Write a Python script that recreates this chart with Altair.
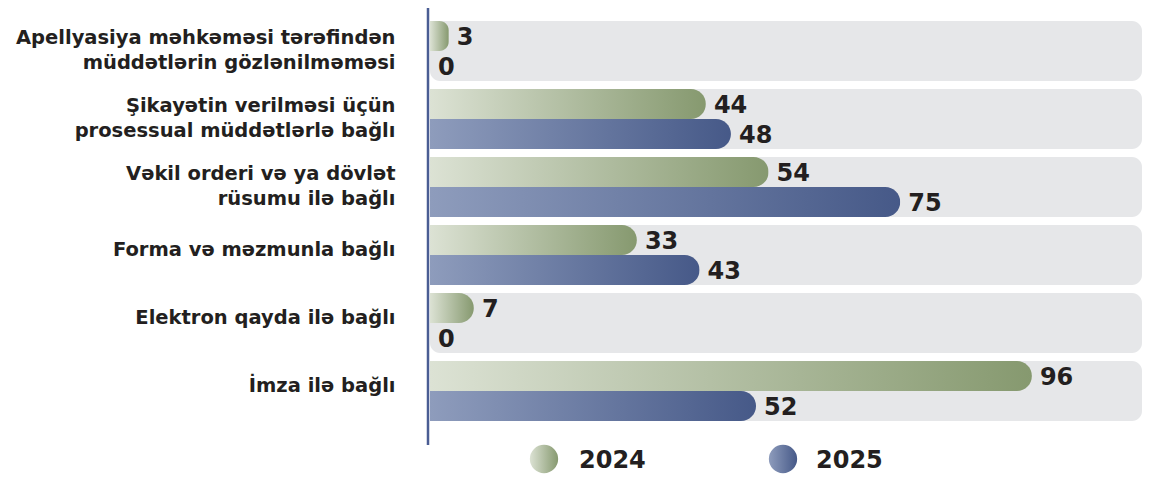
import altair as alt
import pandas as pd

categories = [
    "Apellyasiya məhkəməsi tərəfindən\nmüddətlərin gözlənilməməsi",
    "Şikayətin verilməsi üçün\nprosessual müddətlərlə bağlı",
    "Vəkil orderi və ya dövlət\nrüsumu ilə bağlı",
    "Forma və məzmunla bağlı",
    "Elektron qayda ilə bağlı",
    "İmza ilə bağlı",
]
years = ["2024", "2025"]
values_2024 = [3, 44, 54, 33, 7, 96]
values_2025 = [0, 48, 75, 43, 0, 52]

PLOT_W = 712
XMAX = PLOT_W / 6.27
FONT = "DejaVu Sans"
TEXT_COLOR = "#231f20"

rows = []
for c, a, b in zip(categories, values_2024, values_2025):
    rows.append({"cat": c, "year": years[0], "value": a})
    rows.append({"cat": c, "year": years[1], "value": b})
df = pd.DataFrame(rows)
df_bg = pd.DataFrame({"cat": categories})

green = alt.Gradient(
    gradient="linear",
    stops=[alt.GradientStop(color="#dce2d4", offset=0), alt.GradientStop(color="#86996f", offset=1)],
    x1=0, x2=1, y1=0, y2=0,
)
blue = alt.Gradient(
    gradient="linear",
    stops=[alt.GradientStop(color="#8e9cbc", offset=0), alt.GradientStop(color="#465988", offset=1)],
    x1=0, x2=1, y1=0, y2=0,
)

x_scale = alt.Scale(domain=[0, XMAX], nice=False, zero=True)
y_scale = alt.Scale(paddingInner=8 / 68, paddingOuter=13 / 68)
yoff_scale = alt.Scale(domain=years, paddingInner=0, paddingOuter=0)

y_axis = alt.Axis(
    title=None, ticks=False, domain=False, labelPadding=35,
    labelFont=FONT, labelFontSize=19.5, labelFontWeight="bold", labelColor=TEXT_COLOR,
    labelLineHeight=24.5, labelLimit=0, labelExpr="split(datum.label, '\\n')",
    labelOffset={"condition": {"test": "indexof(datum.value, '\\n') >= 0", "value": -13}, "value": -5},
)

bg = alt.Chart(df_bg).mark_bar(color="#e6e7e9", cornerRadiusEnd=10).encode(
    y=alt.Y("cat:N", sort=categories, scale=y_scale, axis=y_axis),
    x=alt.datum(0, scale=x_scale, axis=None),
    x2=alt.datum(XMAX),
)

def bars(year, grad):
    return alt.Chart(df).transform_filter(alt.datum.year == year).mark_bar(
        fill=grad, cornerRadiusEnd=15
    ).encode(
        y=alt.Y("cat:N", sort=categories, scale=y_scale, axis=y_axis),
        yOffset=alt.YOffset("year:N", scale=yoff_scale),
        x=alt.X("value:Q", scale=x_scale, axis=None),
    )

labels = alt.Chart(df).mark_text(
    align="left", baseline="middle", dx=8, dy=2,
    font=FONT, fontSize=24, fontWeight="bold", color=TEXT_COLOR,
).encode(
    y=alt.Y("cat:N", sort=categories, scale=y_scale, axis=y_axis),
    yOffset=alt.YOffset("year:N", scale=yoff_scale),
    x=alt.X("value:Q", scale=x_scale, axis=None),
    text="value:Q",
)

axis_line = alt.Chart(pd.DataFrame({"k": [0]})).mark_rule(
    color="#4a5d93", strokeWidth=2.5
).encode(x=alt.value(-2), y=alt.value(-8), y2=alt.value(437))

def legend_item(i, grad, cx, tx):
    d = pd.DataFrame({"year": [years[i]]})
    dot = alt.Chart(d).mark_point(
        filled=True, fill=grad, shape="circle", size=800, opacity=1, strokeWidth=0
    ).encode(x=alt.value(cx), y=alt.value(451))
    txt = alt.Chart(d).mark_text(
        align="left", baseline="middle", font=FONT, fontSize=24, fontWeight="bold", color=TEXT_COLOR
    ).encode(x=alt.value(tx), y=alt.value(453), text="year:N")
    return dot + txt

chart = alt.layer(
    bg, bars(years[0], green), bars(years[1], blue), labels, axis_line,
    legend_item(0, green, 114, 149), legend_item(1, blue, 353, 386),
).properties(
    width=PLOT_W, height=426,
    autosize=alt.AutoSizeParams(type="none"),
    padding={"left": 422, "top": 0, "right": 0, "bottom": 40},
).configure(background="white").configure_view(stroke=None)

chart.save("out.html", embed_options={"renderer": "svg", "actions": False})
